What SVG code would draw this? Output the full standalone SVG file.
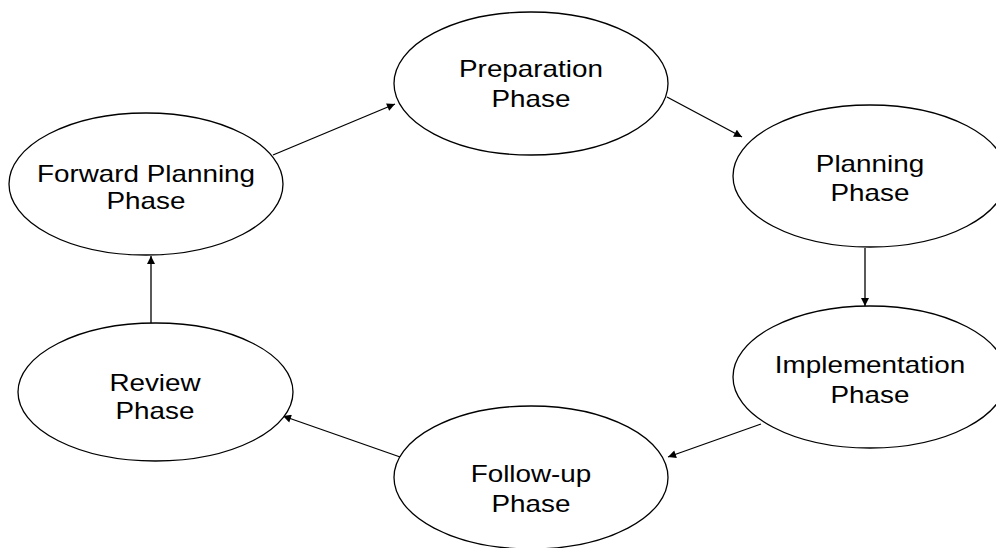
<svg xmlns="http://www.w3.org/2000/svg" width="996" height="548" viewBox="0 0 996 548">
<style>
.node ellipse{fill:#fff;stroke:#000;stroke-width:1.3}
.node text{font-family:"Liberation Sans",Arial,sans-serif;font-size:24px;fill:#000;text-anchor:middle}
.edges line{stroke:#000;stroke-width:1.3;marker-end:url(#ah)}
</style>
<defs>
<marker id="ah" viewBox="0 0 10 10" refX="10" refY="5" markerWidth="9" markerHeight="8" markerUnits="userSpaceOnUse" orient="auto">
<path d="M0,0 L10,5 L0,10 z" fill="#000"/>
</marker>
</defs>
<rect width="996" height="548" fill="#fff"/>
<g class="edges">
<line x1="273" y1="155" x2="395" y2="104"/>
<line x1="667" y1="97" x2="742" y2="137"/>
<line x1="865" y1="248" x2="865" y2="306"/>
<line x1="761" y1="424" x2="668" y2="457"/>
<line x1="403" y1="458" x2="283" y2="416"/>
<line x1="151" y1="323" x2="151" y2="256"/>
</g>
<g id="preparation" class="node">
<ellipse cx="531" cy="83.5" rx="137" ry="71.5"/>
<text transform="translate(531,77) scale(1.16,1)">Preparation</text>
<text transform="translate(531,107) scale(1.16,1)">Phase</text>
</g>
<g id="planning" class="node">
<ellipse cx="870" cy="176" rx="137" ry="71"/>
<text transform="translate(870,172) scale(1.16,1)">Planning</text>
<text transform="translate(870,201) scale(1.16,1)">Phase</text>
</g>
<g id="implementation" class="node">
<ellipse cx="870" cy="377" rx="137" ry="71"/>
<text transform="translate(870,373) scale(1.16,1)">Implementation</text>
<text transform="translate(870,403) scale(1.16,1)">Phase</text>
</g>
<g id="followup" class="node">
<ellipse cx="531" cy="477.5" rx="137" ry="71.5"/>
<text transform="translate(531,482) scale(1.16,1)">Follow-up</text>
<text transform="translate(531,512) scale(1.16,1)">Phase</text>
</g>
<g id="review" class="node">
<ellipse cx="155.5" cy="392" rx="137.5" ry="69"/>
<text transform="translate(155,391) scale(1.16,1)">Review</text>
<text transform="translate(155,419) scale(1.16,1)">Phase</text>
</g>
<g id="forward" class="node">
<ellipse cx="146" cy="184" rx="137" ry="71"/>
<text transform="translate(146,182) scale(1.16,1)">Forward Planning</text>
<text transform="translate(146,209) scale(1.16,1)">Phase</text>
</g>
</svg>
